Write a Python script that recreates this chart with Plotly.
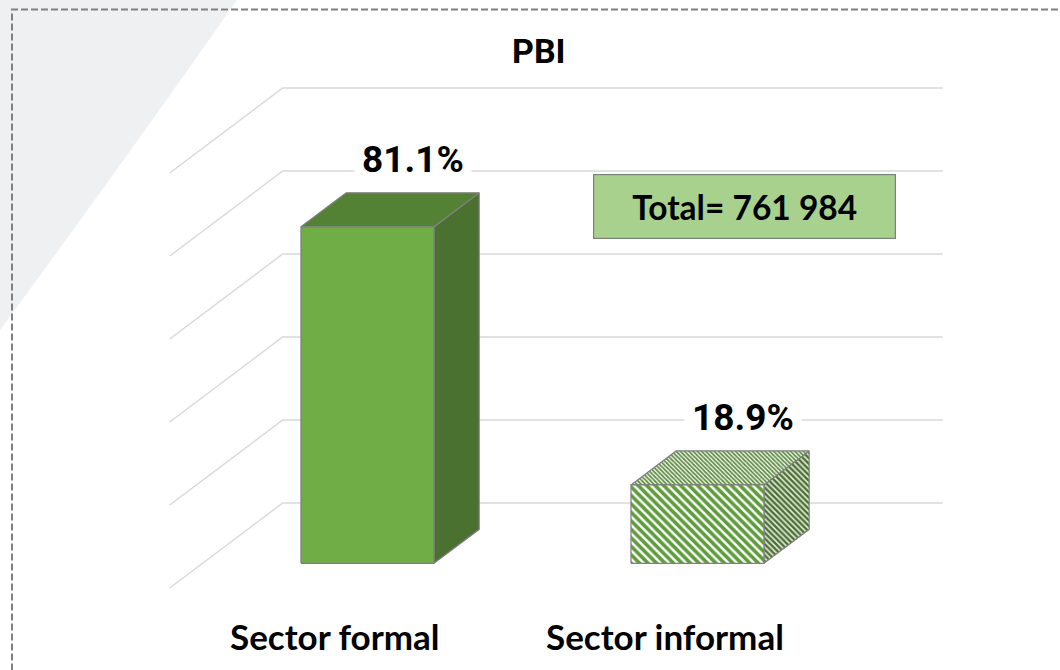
import plotly.graph_objects as go

# ---------------- data ----------------
categories = ["Sector formal", "Sector informal"]
shares = [81.1, 18.9]
value_labels = ["81.1%", "18.9%"]
grid_levels = [0, 20, 40, 60, 80, 100]
title_text = "PBI"
total_text = "Total= 761 984"

# ---------------- oblique 3-D projection (styling) ----------------
W, H = 1060, 670
PX_PER_CAT = 330.0          # pixels per category step
PX_PER_PCT = 4.15           # pixels per percentage point
ORIGIN_PX = (334.7, 588.0)  # pixel of (category 0, value 0, depth 0)
DEPTH_PX = (113.0, -85.0)   # pixel offset of full depth (front -> back wall)
DX = DEPTH_PX[0] / PX_PER_CAT
DY = -DEPTH_PX[1] / PX_PER_PCT
HALF_W = 0.2015             # half bar width (category units)
D0, D1 = 0.29, 0.69         # bar depth span (0 = front, 1 = back wall)


def proj(x, v, d):
    return x + DX * d, v + DY * d


def poly(pts):
    xs, ys = [], []
    for p in pts:
        a, b = proj(*p)
        xs.append(a)
        ys.append(b)
    xs.append(xs[0])
    ys.append(ys[0])
    return xs, ys


x_range = [-ORIGIN_PX[0] / PX_PER_CAT, (W - ORIGIN_PX[0]) / PX_PER_CAT]
y_range = [-(H - ORIGIN_PX[1]) / PX_PER_PCT, ORIGIN_PX[1] / PX_PER_PCT]

fig = go.Figure()

# gridlines: left wall diagonal + back wall horizontal
x_left = -0.5
x_right = len(categories) - 0.5
gx, gy = [], []
for lv in grid_levels:
    for p in [(x_left, lv, 0), (x_left, lv, 1), (x_right, lv, 1)]:
        a, b = proj(*p)
        gx.append(a)
        gy.append(b)
    gx.append(None)
    gy.append(None)
fig.add_trace(go.Scatter(x=gx, y=gy, mode="lines",
                         line=dict(color="#D9D9D9", width=1.5),
                         hoverinfo="skip", showlegend=False))

EDGE = dict(color="#7F7F7F", width=1.2)

solid_styles = {
    "side": dict(fillcolor="#4B7131"),
    "top": dict(fillcolor="#548235"),
    "front": dict(fillcolor="#70AD47"),
}
pattern_styles = {
    "side": dict(fillcolor="#4B7131",
                 fillpattern=dict(shape="\\", fgcolor="#4B7131", bgcolor="#E4EBDF",
                                  size=4, solidity=0.6, fillmode="replace")),
    "top": dict(fillcolor="#548235",
                fillpattern=dict(shape="\\", fgcolor="#5A8A3E", bgcolor="#F2F5EF",
                                 size=3, solidity=0.55, fillmode="replace")),
    "front": dict(fillcolor="#70AD47",
                  fillpattern=dict(shape="\\", fgcolor="#5E9C3C", bgcolor="#FFFFFF",
                                   size=6, solidity=0.6, fillmode="replace")),
}

for i, v in enumerate(shares):
    l, r = i - HALF_W, i + HALF_W
    faces = {
        "side": [(r, 0, D0), (r, 0, D1), (r, v, D1), (r, v, D0)],
        "top": [(l, v, D0), (r, v, D0), (r, v, D1), (l, v, D1)],
        "front": [(l, 0, D0), (r, 0, D0), (r, v, D0), (l, v, D0)],
    }
    styles = solid_styles if i == 0 else pattern_styles
    for name in ["side", "top", "front"]:
        xs, ys = poly(faces[name])
        fig.add_trace(go.Scatter(x=xs, y=ys, mode="lines", fill="toself",
                                 line=EDGE, hoverinfo="skip", showlegend=False,
                                 **styles[name]))

annotations = []
for i, (v, lab) in enumerate(zip(shares, value_labels)):
    ax, ay = proj(i, v, D1)
    annotations.append(dict(x=ax, y=ay, xref="x", yref="y", text=lab,
                            showarrow=False, yanchor="middle", yshift=33,
                            bgcolor="white", borderpad=7,
                            font=dict(family="Roboto", size=37, color="black",
                                      weight="bold")))
for i, cat in enumerate(categories):
    cx, cy = proj(i, 0, 0)
    annotations.append(dict(x=cx, y=cy, xref="x", yref="y", text=cat,
                            showarrow=False, yanchor="middle", yshift=-48,
                            font=dict(family="Lato", size=35, color="black",
                                      weight="bold")))

annotations.append(dict(x=539 / W, y=1 - 51 / H, xref="paper", yref="paper",
                        text=title_text, showarrow=False, yanchor="middle",
                        font=dict(family="Roboto", size=34, color="black",
                                  weight="bold")))
annotations.append(dict(x=744.5 / W, y=1 - 206.5 / H, xref="paper", yref="paper",
                        text=total_text, showarrow=False, yanchor="middle",
                        xanchor="center", width=301, height=63, borderpad=0,
                        bgcolor="#A9D18E", bordercolor="#7F7F7F", borderwidth=1.2,
                        font=dict(family="Lato", size=33.5, color="black",
                                  weight="bold")))

bg_path = (f"M 0 1 L {237 / W} 1 Q {125 / W} {1 - 160 / H} "
           f"0 {1 - 330 / H} Z")

shapes = [
    dict(type="path", xref="paper", yref="paper", layer="below",
         path=bg_path, fillcolor="#EFF0F2", line=dict(width=0)),
    dict(type="rect", xref="paper", yref="paper",
         x0=12 / W, x1=1.05, y0=-0.05, y1=1 - 9.5 / H,
         line=dict(color="#808080", width=2, dash="7px,3px"),
         fillcolor="rgba(0,0,0,0)"),
]

fig.update_layout(
    width=W, height=H, autosize=False,
    margin=dict(l=0, r=0, t=0, b=0, pad=0),
    paper_bgcolor="white", plot_bgcolor="rgba(0,0,0,0)",
    xaxis=dict(range=x_range, visible=False, fixedrange=True),
    yaxis=dict(range=y_range, visible=False, fixedrange=True),
    annotations=annotations, shapes=shapes, showlegend=False,
)

fig.write_html("out.html", config={"displayModeBar": False},
               post_script="document.body.style.margin='0';"
                           "document.body.style.overflow='hidden';")
